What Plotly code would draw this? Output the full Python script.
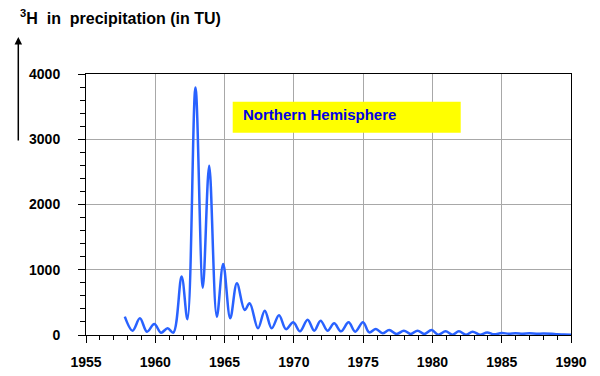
import plotly.graph_objects as go

# Data (time in decimal years, tritium in TU)
years = [1957.80, 1958.36, 1958.89, 1959.40, 1959.93, 1960.41, 1960.89, 1961.30,
         1961.90, 1962.32, 1962.90, 1963.43, 1963.89, 1964.44, 1964.90, 1965.41,
         1965.89, 1966.45, 1966.81, 1967.41, 1967.90, 1968.40, 1968.93, 1969.43,
         1969.96, 1970.44, 1970.99, 1971.47, 1971.93, 1972.43, 1972.91, 1973.40,
         1973.95, 1974.43, 1974.99, 1975.44, 1975.92, 1976.40, 1976.88, 1977.41,
         1977.94, 1978.43, 1978.93, 1979.41, 1979.94, 1980.42, 1980.95, 1981.45,
         1981.91, 1982.42, 1982.90, 1983.43, 1983.95, 1984.44, 1985.0, 1985.5,
         1986.0, 1986.5, 1987.0, 1987.5, 1988.0, 1988.6, 1989.0, 1989.5, 1990.0]
tritium = [281, 66, 256, 51, 169, 36, 102, 36,
           895, 240, 3793, 726, 2592, 281, 1089, 256,
           793, 383, 486, 103, 373, 103, 302, 90,
           194, 56, 235, 66, 220, 66, 179, 56,
           194, 51, 194, 40, 92, 25, 77, 15,
           66, 15, 66, 15, 77, 5, 56, 5,
           56, 5, 51, 5, 40, 10, 30, 20,
           28, 20, 25, 20, 22, 18, 10, 8, 5]

x_ticks = [1955, 1960, 1965, 1970, 1975, 1980, 1985, 1990]
y_ticks = [0, 1000, 2000, 3000, 4000]

title_text = "<sup>3</sup>H\u00a0\u00a0in\u00a0\u00a0precipitation (in TU)"
label_text = "Northern Hemisphere"

FONT = "Liberation Sans, Arial, sans-serif"

fig = go.Figure()
fig.add_trace(go.Scatter(
    x=years, y=tritium, mode="lines",
    line=dict(color="#2962ff", width=2.5, shape="spline", smoothing=1.0),
    hoverinfo="skip", showlegend=False,
))

fig.update_layout(
    width=600, height=376,
    margin=dict(l=86, r=29, t=74, b=41),
    paper_bgcolor="white", plot_bgcolor="white",
    font=dict(family=FONT, color="black"),
    showlegend=False,
    xaxis=dict(
        range=[1955, 1990], tickvals=x_ticks,
        ticktext=[str(v) for v in x_ticks],
        automargin=False,
        showgrid=True, gridcolor="#a8a8a8", gridwidth=1,
        zeroline=False, showline=True, linecolor="black", linewidth=1,
        mirror=True,
        ticks="outside", ticklen=7, tickcolor="black", tickwidth=1,
        ticklabelstandoff=7,
        tickfont=dict(family=FONT, size=14, color="black", weight="bold"),
        minor=dict(dtick=1, tick0=1955, ticks="outside", ticklen=4,
                   tickcolor="black", showgrid=False),
    ),
    yaxis=dict(
        range=[0, 4000], tickvals=y_ticks,
        ticktext=[str(v) for v in y_ticks],
        automargin=False,
        showgrid=True, gridcolor="#a8a8a8", gridwidth=1,
        zeroline=False, showline=True, linecolor="black", linewidth=1,
        mirror=True,
        ticks="outside", ticklen=7, tickcolor="black", tickwidth=1,
        ticklabelstandoff=15,
        tickfont=dict(family=FONT, size=14, color="black", weight="bold"),
        minor=dict(dtick=200, tick0=0, ticks="outside", ticklen=5,
                   tickcolor="black", showgrid=False),
    ),
)

# yellow label box
fig.add_shape(type="rect", xref="paper", yref="paper",
              x0=0.3025, x1=0.7726, y0=0.7751, y1=0.8939,
              fillcolor="#ffff00", line=dict(width=0), layer="above")
fig.add_annotation(xref="paper", yref="paper", x=0.319, y=0.8448,
                   xanchor="left", yanchor="middle", showarrow=False,
                   text="<b>" + label_text + "</b>",
                   font=dict(family=FONT, size=15, color="#0000e6"))

# title
fig.add_annotation(xref="paper", yref="paper", x=-0.1405, y=1.2184,
                   xanchor="left", yanchor="middle", showarrow=False,
                   text="<b>" + title_text + "</b>",
                   font=dict(family=FONT, size=16, color="black"))

# vertical arrow
fig.add_annotation(xref="paper", yref="paper", x=-0.1396, y=1.1418,
                   ax=0, ay=105, axref="pixel", ayref="pixel",
                   showarrow=True, arrowhead=2, arrowsize=1, arrowwidth=1.5,
                   arrowcolor="black", text="")

fig.write_html(
    "out.html",
    config={"displayModeBar": False, "staticPlot": True},
    post_script="document.body.style.margin='0px';document.body.style.padding='0px';"
                "document.documentElement.style.overflow='hidden';",
)
